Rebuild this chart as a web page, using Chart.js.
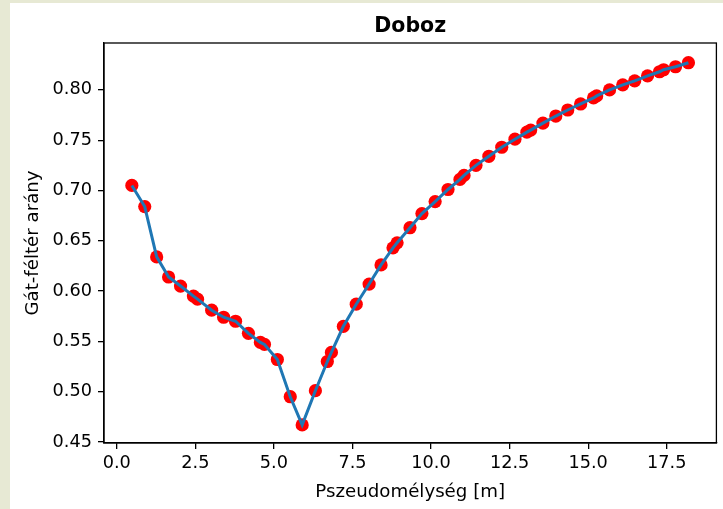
<!DOCTYPE html>
<html>
<head>
<meta charset="utf-8">
<script src="https://cdn.jsdelivr.net/npm/chart.js@4"></script>
<style>
    html, body { margin: 0; padding: 0; background: #fff; }
    #wrap { position: relative; width: 723px; height: 509px; overflow: hidden; }
    #stripLeft { position: absolute; left: 0; top: 0; width: 10px; height: 509px; background: #e7e9d4; }
    #stripTop { position: absolute; left: 0; top: 0; width: 723px; height: 3px; background: #e7e9d4; }
    canvas { position: absolute; left: 0; top: 0; }
</style>
</head>
<body>
<div id="wrap">
    <div id="stripLeft"></div>
    <div id="stripTop"></div>
    <canvas id="chart" width="723" height="509"></canvas>
</div>
<script>
// pseudo depth [m] and barrier / half-space ratio
const depth = [0.48, 0.89, 1.27, 1.65, 2.03, 2.44, 2.57, 3.02, 3.40, 3.78,
    4.19, 4.57, 4.70, 5.11, 5.52, 5.90, 6.32, 6.70, 6.83, 7.21,
    7.62, 8.03, 8.41, 8.79, 8.92, 9.33, 9.71, 10.13, 10.54, 10.92,
    11.05, 11.43, 11.84, 12.25, 12.67, 13.05, 13.17, 13.56, 13.97, 14.35,
    14.76, 15.17, 15.27, 15.68, 16.10, 16.48, 16.89, 17.27, 17.40, 17.78, 18.19];
const ratio = [0.705, 0.684, 0.634, 0.614, 0.605, 0.595, 0.592, 0.581, 0.574, 0.570,
    0.558, 0.549, 0.547, 0.532, 0.495, 0.467, 0.501, 0.530, 0.539, 0.565,
    0.587, 0.607, 0.626, 0.643, 0.648, 0.663, 0.677, 0.689, 0.701, 0.711,
    0.715, 0.725, 0.734, 0.743, 0.751, 0.758, 0.760, 0.767, 0.774, 0.780,
    0.786, 0.792, 0.794, 0.800, 0.805, 0.809, 0.814, 0.818, 0.820, 0.823, 0.827];

const xTicks = [0, 2.5, 5, 7.5, 10, 12.5, 15, 17.5];
const yTicks = [0.45, 0.50, 0.55, 0.60, 0.65, 0.70, 0.75, 0.80];

const points = depth.map((d, i) => ({ x: d, y: ratio[i] }));

Chart.defaults.font.family = "'DejaVu Sans', sans-serif";
Chart.defaults.color = "#000";

// box round the plot area, like matplotlib spines
const frame = {
    id: "frame",
    afterDraw(chart) {
        const a = chart.chartArea;
        const ctx = chart.ctx;
        ctx.save();
        ctx.strokeStyle = "#000";
        ctx.lineWidth = 1.3;
        ctx.strokeRect(a.left, a.top, a.right - a.left, a.bottom - a.top);
        ctx.restore();
    }
};

new Chart(document.getElementById("chart"), {
    type: "scatter",
    data: {
        datasets: [
            {
                label: "line",
                data: points,
                showLine: true,
                borderColor: "#1f77b4",
                borderWidth: 3,
                pointRadius: 0,
                fill: false
            },
            {
                label: "points",
                data: points,
                backgroundColor: "#ff0000",
                borderWidth: 0,
                pointRadius: 6.6
            }
        ]
    },
    options: {
        responsive: false,
        animation: false,
        layout: { padding: { left: 0, right: 1, top: 0, bottom: 0 } },
        plugins: {
            legend: { display: false },
            tooltip: { enabled: false },
            title: {
                display: true,
                text: "Doboz",
                fullSize: false,
                font: { size: 20.5, weight: "bold" },
                padding: { top: 14.7, bottom: 3.7 }
            }
        },
        scales: {
            x: {
                type: "linear",
                min: -0.406,
                max: 19.08,
                afterFit(scale) { scale.height = 66; },
                afterBuildTicks(scale) { scale.ticks = xTicks.map(v => ({ value: v })); },
                ticks: {
                    font: { size: 17.7 },
                    padding: 4,
                    maxRotation: 0,
                    autoSkip: false,
                    callback: v => Number(v).toFixed(1)
                },
                grid: { drawOnChartArea: false, drawTicks: true, tickLength: 6, color: "#000", lineWidth: 1.3 },
                border: { display: true, color: "#000", width: 1.3 },
                title: {
                    display: true,
                    text: "Pszeudomélység [m]",
                    font: { size: 18.2 },
                    padding: { top: 0, bottom: 5.5 }
                }
            },
            y: {
                type: "linear",
                min: 0.449,
                max: 0.8466,
                afterFit(scale) { scale.width = 104; },
                afterBuildTicks(scale) { scale.ticks = yTicks.map(v => ({ value: v })); },
                ticks: {
                    font: { size: 17.7 },
                    padding: 6,
                    autoSkip: false,
                    callback: v => Number(v).toFixed(2)
                },
                grid: { drawOnChartArea: false, drawTicks: true, tickLength: 6, color: "#000", lineWidth: 1.3 },
                border: { display: true, color: "#000", width: 1.3 },
                title: {
                    display: true,
                    text: "Gát-féltér arány",
                    font: { size: 18.2 },
                    padding: { top: 22.5, bottom: 0 }
                }
            }
        }
    },
    plugins: [frame]
});
</script>
</body>
</html>
